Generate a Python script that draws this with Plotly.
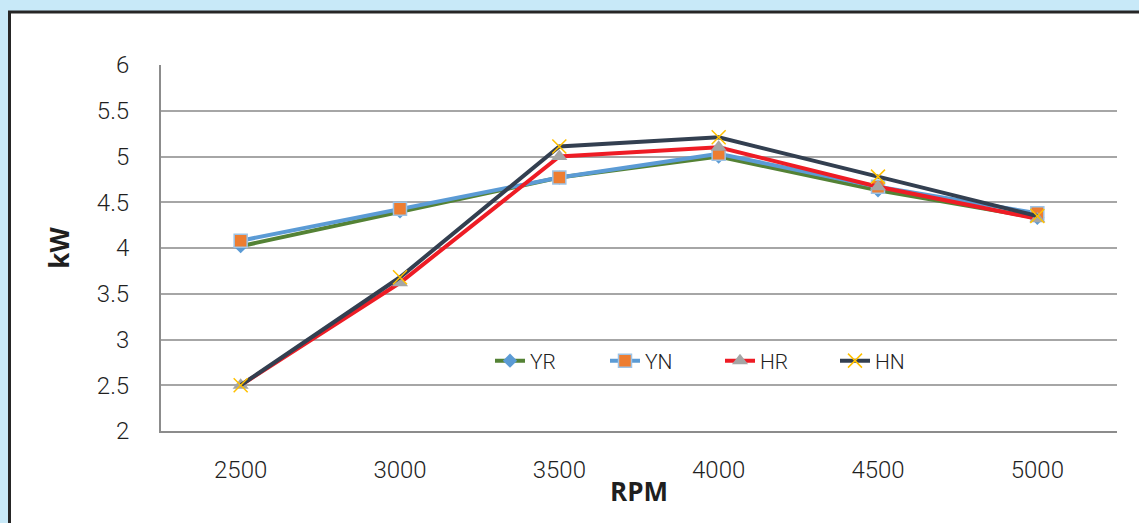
import plotly.graph_objects as go

rpm = ["2500", "3000", "3500", "4000", "4500", "5000"]
yr = [4.02, 4.40, 4.77, 5.00, 4.63, 4.33]
yn = [4.08, 4.43, 4.77, 5.03, 4.67, 4.38]
hr = [2.50, 3.62, 5.00, 5.10, 4.67, 4.32]
hn = [2.50, 3.68, 5.11, 5.21, 4.78, 4.35]
y_ticks = [2, 2.5, 3, 3.5, 4, 4.5, 5, 5.5, 6]
y_tick_text = ["2", "2.5", "3", "3.5", "4", "4.5", "5", "5.5", "6"]

TICK_FONT = "Roboto, sans-serif"
TITLE_FONT = "'Open Sans', Lato, sans-serif"

fig = go.Figure()
fig.add_trace(go.Scatter(
    x=rpm, y=yr, name="YR", mode="lines+markers",
    line=dict(color="#548235", width=4),
    marker=dict(symbol="diamond", size=11, color="#5b9bd5"),
))
fig.add_trace(go.Scatter(
    x=rpm, y=yn, name="YN", mode="lines+markers",
    line=dict(color="#5b9bd5", width=4),
    marker=dict(symbol="square", size=13, color="#ed7d31",
                line=dict(color="#9dc3e6", width=1.5)),
))
fig.add_trace(go.Scatter(
    x=rpm, y=hr, name="HR", mode="lines+markers",
    line=dict(color="#ee1c25", width=4),
    marker=dict(symbol="triangle-up", size=14, color="#a5a5a5"),
))
fig.add_trace(go.Scatter(
    x=rpm, y=hn, name="HN", mode="lines+markers",
    line=dict(color="#333f50", width=4),
    marker=dict(symbol="x-thin", size=14, color="#ffc000",
                line=dict(color="#ffc000", width=1.5)),
))

L, R, T, B = 161, 22, 65, 92
W, H = 1139, 523
pw, ph = W - L - R, H - T - B


def px(x):
    return (x - L) / pw


def py(y):
    return (H - B - y) / ph


# white panel with dark frame on the light blue page
fig.add_shape(type="rect", xref="paper", yref="paper",
              x0=px(9.5), x1=px(1150), y0=py(12), y1=py(540),
              fillcolor="white", line=dict(color="#262626", width=3),
              layer="below")

fig.update_layout(
    width=W, height=H,
    margin=dict(l=L, r=R, t=T, b=B),
    paper_bgcolor="#c8e9f8",
    plot_bgcolor="white",
    font=dict(family=TICK_FONT, color="#1f1f1f"),
    showlegend=True,
    legend=dict(orientation="h", x=px(720), y=py(361),
                xanchor="center", yanchor="middle",
                bgcolor="rgba(0,0,0,0)",
                font=dict(size=21, family=TICK_FONT, weight=300),
                entrywidth=70, entrywidthmode="pixels",
                itemwidth=30, tracegroupgap=0),
    xaxis=dict(
        type="category", range=[-0.5, 5.5],
        showgrid=False, showline=True, linecolor="#8c8c8c", linewidth=2,
        ticks="", tickfont=dict(size=24, weight=300), ticklabelstandoff=16,
        title=dict(text="<b>RPM</b>", font=dict(size=26, family=TITLE_FONT),
                   standoff=0),
        fixedrange=True,
    ),
    yaxis=dict(
        range=[2, 6], tickvals=y_ticks, ticktext=y_tick_text,
        showgrid=True, gridcolor="#a6a6a6", gridwidth=1.5,
        showline=True, linecolor="#8c8c8c", linewidth=2,
        zeroline=False, ticks="", tickfont=dict(size=24, weight=300),
        ticklabelstandoff=25,
        title=dict(text="<b>kW</b>", font=dict(size=26, family=TITLE_FONT),
                   standoff=20),
        fixedrange=True,
    ),
)

fig.write_html("out.html")
